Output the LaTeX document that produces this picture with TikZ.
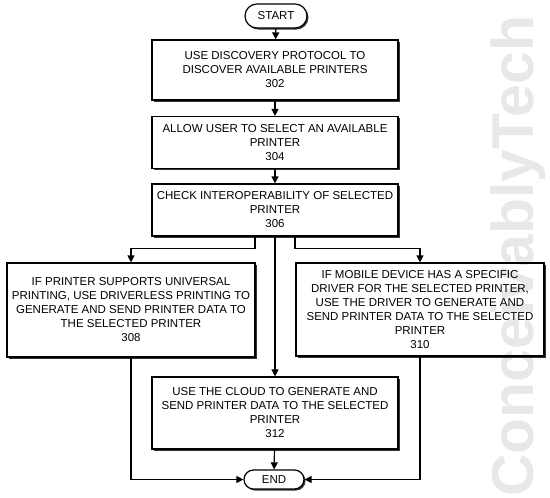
\documentclass[tikz,border=0pt]{standalone}
\usepackage{fontspec}
\setmainfont{Liberation Sans}
\usepackage{tikz}
\usetikzlibrary{arrows.meta,shapes.misc,shadows}

\begin{document}
\begin{tikzpicture}[x=1pt,y=-1pt,
    stepbox/.style={draw,line width=1.2pt,fill=white,align=center,
      font=\fontsize{11.5}{14}\selectfont,inner sep=0pt,
      drop shadow={shadow xshift=1.5pt,shadow yshift=-1.5pt,fill=black!80,opacity=1}},
    terminal/.style={stepbox,rounded rectangle},
    flow/.style={line width=1.2pt,-{Triangle[length=7pt,width=7pt]}}]
   \useasboundingbox (0,0) rectangle (550,498);

   \node[terminal,minimum width=62pt,minimum height=24pt] (start) at (276,16) {START};
   \node[stepbox,minimum width=246pt,minimum height=60pt] (b302) at (275,70)
     {USE DISCOVERY PROTOCOL TO\\DISCOVER AVAILABLE PRINTERS\\302};
   \node[stepbox,minimum width=246pt,minimum height=52pt] (b304) at (275,142.5)
     {ALLOW USER TO SELECT AN AVAILABLE\\PRINTER\\304};
   \node[stepbox,minimum width=246pt,minimum height=52pt] (b306) at (275,210)
     {CHECK INTEROPERABILITY OF SELECTED\\PRINTER\\306};
   \node[stepbox,minimum width=248pt,minimum height=94pt] (b308) at (131,310)
     {IF PRINTER SUPPORTS UNIVERSAL\\PRINTING, USE DRIVERLESS PRINTING TO\\GENERATE AND SEND PRINTER DATA TO\\THE SELECTED PRINTER\\308};
   \node[stepbox,minimum width=248pt,minimum height=93pt] (b310) at (420,309.5)
     {IF MOBILE DEVICE HAS A SPECIFIC\\DRIVER FOR THE SELECTED PRINTER,\\USE THE DRIVER TO GENERATE AND\\SEND PRINTER DATA TO THE SELECTED\\PRINTER\\310};
   \node[stepbox,minimum width=246pt,minimum height=72pt] (b312) at (275,413)
     {USE THE CLOUD TO GENERATE AND\\SEND PRINTER DATA TO THE SELECTED\\PRINTER\\312};
   \node[terminal,minimum width=60pt,minimum height=19pt] (end) at (274,479.5) {END};

   \draw[flow] (start) -- (b302);
   \draw[flow] (b302) -- (b304);
   \draw[flow] (b304) -- (b306);
   % three branches below 306
   \draw[flow] ([xshift=-20pt]b306.south) -- ++(0,12) -| (b308.north);
   \draw[flow] (b306.south) -- (b312.north);
   \draw[flow] ([xshift=20pt]b306.south) -- ++(0,12) -| (b310.north);
   \draw[flow] (b308.south) |- (end.west);
   \draw[flow] (b310.south) |- (end.east);
   \draw[flow] (b312) -- (end);

   %watermark
   \node[rotate=90,anchor=base west,text=black,opacity=0.09,
     font=\fontsize{59}{59}\bfseries\selectfont,inner sep=0pt] (mark) at (533,497) {ConceivablyTech};
\end{tikzpicture}
\end{document}
